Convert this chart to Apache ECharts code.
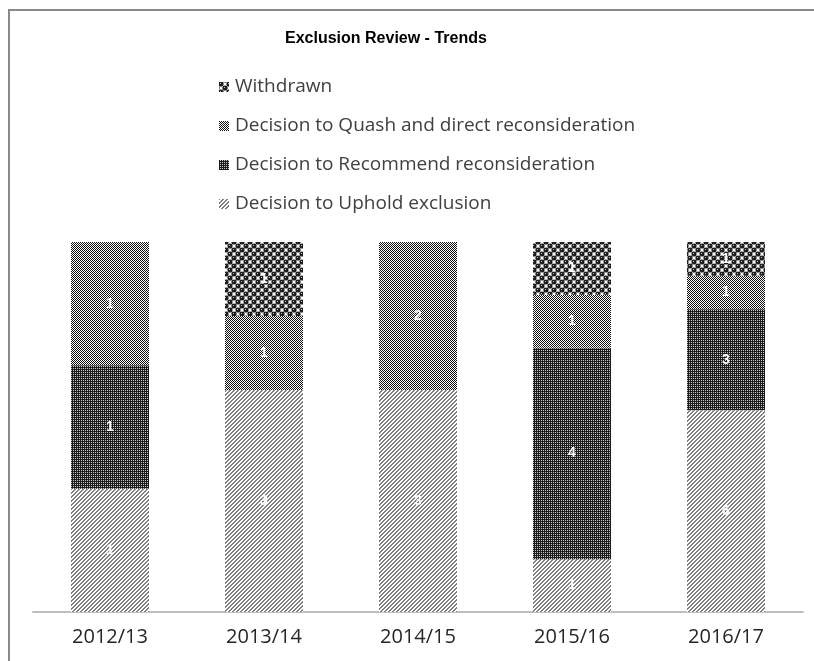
<!DOCTYPE html>
<html>
<head>
<meta charset="utf-8">
<script src="https://cdn.jsdelivr.net/npm/echarts@6/dist/echarts.min.js"></script>
<style>
  html, body { margin: 0; padding: 0; background: #fff; overflow: hidden; }
  #chart { width: 814px; height: 661px; }
</style>
</head>
<body>
<div id="chart"></div>
<script>
// data
const years = ['2012/13', '2013/14', '2014/15', '2015/16', '2016/17']
const uphold = [1, 3, 3, 1, 6]
const recommend = [1, 0, 0, 4, 3]
const quash = [1, 1, 2, 1, 1]
const withdrawn = [0, 1, 0, 1, 1]

const totals = years.map((y, i) => uphold[i] + recommend[i] + quash[i] + withdrawn[i])

// patterns, drawn once on small canvases
const makeTile = (w, h, draw) => {
    let c = document.createElement('canvas')
    c.width = w
    c.height = h
    let ctx = c.getContext('2d')
    ctx.fillStyle = '#fff'
    ctx.fillRect(0, 0, w, h)
    draw(ctx)
    return { image: c, repeat: 'repeat' }
}

const patUphold = makeTile(4, 4, ctx => {
    // upward diagonal stripes "/"
    ctx.fillStyle = '#7f7f7f'
    for (let i = 0; i < 4; i++) {
        ctx.fillRect(3 - i, i, 1, 1)
        ctx.fillRect((4 - i) % 4, i, 1, 1)
    }
})
const patRecommend = makeTile(2, 2, ctx => {
    ctx.fillStyle = '#1c1c1c'
    ctx.fillRect(0, 0, 2, 2)
    ctx.fillStyle = '#c8c8c8'
    ctx.fillRect(1, 0, 1, 1)
})
const patQuash = makeTile(2, 2, ctx => {
    ctx.fillStyle = '#111'
    ctx.fillRect(0, 0, 1, 1)
    ctx.fillRect(1, 1, 1, 1)
})
const patWithdrawn = makeTile(8, 8, ctx => {
    ctx.fillStyle = '#1f1f1f'
    const dots = [[2, 2], [6, 6], [-2, 6], [6, -2], [10, 6], [6, 10], [2, 10], [10, 2]]
    dots.forEach(d => {
        ctx.beginPath()
        ctx.arc(d[0], d[1], 2.6, 0, Math.PI * 2)
        ctx.fill()
    })
    ctx.fillStyle = '#bbb'
    ctx.fillRect(1, 1, 1, 1)
    ctx.fillRect(5, 5, 1, 1)
})

const pct = arr => arr.map((v, i) => (v / totals[i]) * 100)

const mkSeries = (name, arr, pat) => ({
    name: name,
    type: 'bar',
    stack: 'all',
    barWidth: 78,
    data: pct(arr).map((p, i) => ({ value: p, count: arr[i] })),
    itemStyle: { color: pat },
    label: {
        show: true,
        color: '#fff',
        fontFamily: 'Liberation Sans',
        fontWeight: 'bold',
        fontSize: 14,
        formatter: p => (p.data.count > 0 ? p.data.count : ''),
    },
})

let myChart = echarts.init(document.getElementById('chart'))
let option = {
    animation: false,
    title: {
        text: 'Exclusion Review - Trends',
        left: 280,
        top: 26,
        textStyle: { fontFamily: 'Liberation Sans', fontWeight: 'bold', fontSize: 16, color: '#000' },
    },
    legend: {
        orient: 'vertical',
        left: 214,
        top: 72,
        icon: 'rect',
        itemWidth: 10,
        itemHeight: 10,
        itemGap: 19,
        data: ['Withdrawn', 'Decision to Quash and direct reconsideration', 'Decision to Recommend reconsideration', 'Decision to Uphold exclusion'],
        textStyle: { fontFamily: 'Open Sans', fontSize: 19, lineHeight: 20, color: '#404040', padding: [0, 0, 0, 1] },
    },
    graphic: [
        {
            type: 'line',
            shape: { x1: 8, y1: 10, x2: 814, y2: 10 },
            style: { stroke: '#898989', lineWidth: 2 },
            silent: true,
        },
        {
            type: 'line',
            shape: { x1: 9, y1: 9, x2: 9, y2: 661 },
            style: { stroke: '#898989', lineWidth: 2 },
            silent: true,
        },
    ],
    grid: { left: 33, top: 242, width: 770, height: 370 },
    xAxis: {
        type: 'category',
        data: years,
        axisLine: { lineStyle: { color: '#bfbfbf', width: 2 } },
        axisTick: { show: false },
        axisLabel: { fontFamily: 'Open Sans', fontSize: 20, color: '#262626', margin: 15 },
    },
    yAxis: {
        type: 'value',
        min: 0,
        max: 100,
        show: false,
        splitLine: { show: false },
    },
    series: [
        mkSeries('Decision to Uphold exclusion', uphold, patUphold),
        mkSeries('Decision to Recommend reconsideration', recommend, patRecommend),
        mkSeries('Decision to Quash and direct reconsideration', quash, patQuash),
        mkSeries('Withdrawn', withdrawn, patWithdrawn),
    ],
}
myChart.setOption(option)
</script>
</body>
</html>
